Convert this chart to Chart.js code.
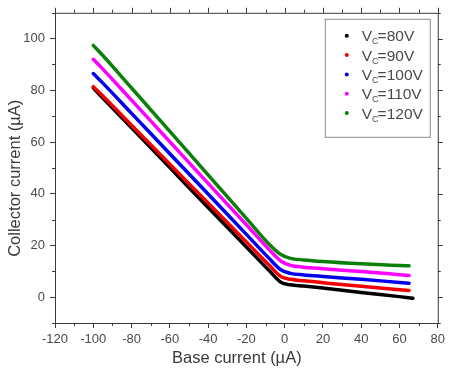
<!DOCTYPE html>
<html>
<head>
<meta charset="utf-8">
<script src="https://cdn.jsdelivr.net/npm/chart.js@4.4.1/dist/chart.umd.min.js"></script>
<style>
  html, body { margin: 0; padding: 0; background: #fff; }
  #wrap { width: 449px; height: 369px; position: relative; }
</style>
</head>
<body>
<div id="wrap"><canvas id="chart" width="449" height="369"></canvas></div>
<script>
// I_C vs I_B sweeps for five collector voltages
const baseCurrent = [-100, -95, -80, -60, -40, -20, -8, -2, 3, 10, 20, 40, 60, 65];
const baseCurrent80 = [-100, -95, -80, -60, -40, -20, -8, -2, 3, 10, 20, 40, 60, 67];
const ic80 = [81.0, 77.0, 65.5, 50.1, 34.7, 19.4, 10.2, 5.8, 4.8, 4.3, 3.5, 1.8, 0.2, -0.4];
const ic90 = [81.4, 77.8, 66.5, 51.4, 36.4, 21.3, 12.3, 8.0, 6.9, 6.3, 5.6, 4.2, 2.9, 2.6];
const ic100 = [86.5, 82.8, 71.1, 55.5, 39.9, 24.3, 14.9, 10.6, 9.2, 8.6, 8.0, 6.9, 5.7, 5.4];
const ic110 = [92.0, 88.2, 76.2, 60.1, 44.0, 28.0, 18.3, 14.0, 12.3, 11.6, 11.0, 9.9, 8.7, 8.4];
const ic120 = [97.4, 93.5, 80.9, 64.1, 47.3, 30.5, 20.4, 16.5, 15.0, 14.4, 13.8, 12.9, 12.2, 12.1];
const voltages = ['80V', '90V', '100V', '110V', '120V'];
const colors = ['#000000', '#f00000', '#0000f0', '#ff00ff', '#0a7f0a'];
const xTicks = [-120, -100, -80, -60, -40, -20, 0, 20, 40, 60, 80];
const yTicks = [0, 20, 40, 60, 80, 100];
const xTitle = 'Base current (µA)';
const yTitle = 'Collector current (µA)';

const FONT = '"Liberation Sans", Arial, sans-serif';
const AXIS = '#3a3a3a';

const pts = (xs, ys) => xs.map((x, i) => ({ x, y: ys[i] }));
const series = [
  pts(baseCurrent80, ic80),
  pts(baseCurrent, ic90),
  pts(baseCurrent, ic100),
  pts(baseCurrent, ic110),
  pts(baseCurrent, ic120)
];

// box around the plot, mirrored ticks on top/right, minor ticks everywhere
const frame = {
  id: 'frame',
  afterDraw(chart) {
    const { ctx, chartArea: a, scales: { x, y } } = chart;
    ctx.save();
    ctx.strokeStyle = AXIS;
    ctx.lineWidth = 1;
    ctx.strokeRect(a.left + 0.5, a.top + 0.5, a.right - a.left, a.bottom - a.top);
    ctx.beginPath();
    for (let v = -120; v <= 80; v += 10) {
      const px = Math.round(x.getPixelForValue(v)) + 0.5;
      const len = v % 20 === 0 ? 5 : 3;
      ctx.moveTo(px, a.top); ctx.lineTo(px, a.top - len);
      if (v % 20 !== 0) { ctx.moveTo(px, a.bottom); ctx.lineTo(px, a.bottom + len); }
    }
    for (let v = -10; v <= 110; v += 10) {
      const py = Math.round(y.getPixelForValue(v)) + 0.5;
      const len = v % 20 === 0 ? 5 : 3;
      ctx.moveTo(a.right, py); ctx.lineTo(a.right + len, py);
      if (v % 20 !== 0) { ctx.moveTo(a.left, py); ctx.lineTo(a.left - len, py); }
    }
    ctx.stroke();

    // axis titles, sitting a little toward the origin
    ctx.fillStyle = '#3a3a3a';
    ctx.font = '16.5px ' + FONT;
    ctx.textAlign = 'center';
    ctx.textBaseline = 'middle';
    ctx.fillText(xTitle, x.getPixelForValue(-25), 358);
    ctx.translate(15, y.getPixelForValue(46));
    ctx.rotate(-Math.PI / 2);
    ctx.fillText(yTitle, 0, 0);
    ctx.restore();
  }
};

// legend with subscripted V_C labels
const vcLegend = {
  id: 'vcLegend',
  afterDraw(chart) {
    const { ctx, chartArea: a } = chart;
    const bx = a.right - 113, by = a.top + 6, bw = 105, bh = 118;
    ctx.save();
    ctx.strokeStyle = '#8a8a8a';
    ctx.lineWidth = 1;
    ctx.strokeRect(bx + 0.5, by + 0.5, bw, bh);
    ctx.textBaseline = 'alphabetic';
    voltages.forEach((v, i) => {
      const cy = by + 17 + i * 19.3;
      ctx.fillStyle = colors[i];
      ctx.beginPath();
      ctx.arc(bx + 22, cy, 2, 0, Math.PI * 2);
      ctx.fill();
      ctx.fillStyle = '#4a4a4a';
      let tx = bx + 37;
      const base = cy + 5.5;
      ctx.font = '15.5px ' + FONT;
      ctx.fillText('V', tx, base);
      tx += ctx.measureText('V').width;
      ctx.font = '9px ' + FONT;
      ctx.fillText('C', tx, base + 3);
      tx += ctx.measureText('C').width - 1;
      ctx.font = '15.5px ' + FONT;
      ctx.fillText('=' + v, tx, base);
    });
    ctx.restore();
  }
};

new Chart(document.getElementById('chart'), {
  type: 'line',
  data: {
    datasets: series.map((data, i) => ({
      label: 'VC=' + voltages[i],
      data,
      borderColor: colors[i],
      backgroundColor: colors[i],
      borderWidth: 3.5,
      borderCapStyle: 'round',
      borderJoinStyle: 'round',
      pointRadius: 0,
      cubicInterpolationMode: 'monotone',
      order: 4 - i
    }))
  },
  options: {
    responsive: false,
    animation: false,
    layout: { padding: { top: 10, right: 11, left: 0, bottom: 0 } },
    plugins: { legend: { display: false }, tooltip: { enabled: false } },
    scales: {
      x: {
        type: 'linear',
        min: -120,
        max: 80,
        afterBuildTicks: s => { s.ticks = xTicks.map(value => ({ value })); },
        afterFit: s => { s.height = 46; },
        grid: { drawOnChartArea: false, tickLength: 5, color: AXIS },
        border: { color: AXIS, width: 1 },
        ticks: { color: '#4a4a4a', padding: 4, maxRotation: 0, font: { family: FONT, size: 13 } }
      },
      y: {
        type: 'linear',
        min: -10,
        max: 110,
        afterBuildTicks: s => { s.ticks = yTicks.map(value => ({ value })); },
        afterFit: s => { s.width = 55; },
        grid: { drawOnChartArea: false, tickLength: 5, color: AXIS },
        border: { color: AXIS, width: 1 },
        ticks: { color: '#4a4a4a', padding: 5, font: { family: FONT, size: 13 } }
      }
    }
  },
  plugins: [frame, vcLegend]
});
</script>
</body>
</html>
